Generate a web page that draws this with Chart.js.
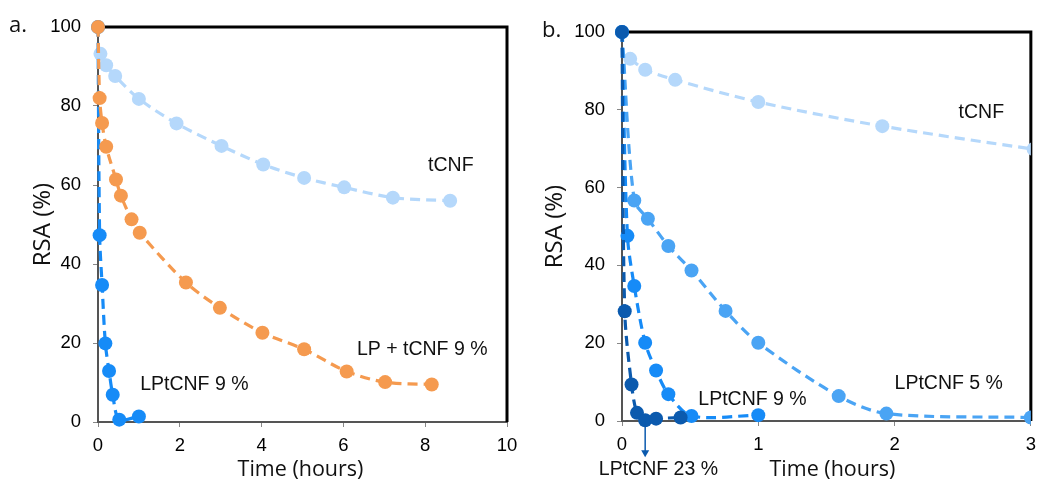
<!DOCTYPE html>
<html>
<head>
<meta charset="utf-8">
<script src="https://cdn.jsdelivr.net/npm/chart.js@4/dist/chart.umd.min.js"></script>
<style>
  html, body { margin: 0; padding: 0; background: #fff; }
  #wrap { position: relative; width: 1044px; height: 482px; }
  .panel { position: absolute; top: 0; height: 482px; }
  #panelA { left: 0; width: 530px; }
  #panelB { left: 530px; width: 514px; }
</style>
</head>
<body>
<div id="wrap">
  <div class="panel" id="panelA"><canvas id="chartA"></canvas></div>
  <div class="panel" id="panelB"><canvas id="chartB"></canvas></div>
</div>
<script>
// panel a
const timeTcnf = [0.06, 0.2, 0.42, 1.0, 1.92, 3.02, 4.04, 5.04, 6.02, 7.21, 8.61];
const rsaTcnf = [93.2, 90.3, 87.6, 81.8, 75.6, 69.9, 65.2, 61.8, 59.4, 56.8, 56.0];
const timeLpTcnf = [0, 0.04, 0.1, 0.2, 0.44, 0.56, 0.82, 1.02, 2.15, 2.98, 4.02, 5.04, 6.08, 7.02, 8.16];
const rsaLpTcnf = [100, 82.0, 75.7, 69.7, 61.4, 57.3, 51.3, 47.9, 35.3, 28.9, 22.6, 18.4, 12.8, 10.1, 9.5];
const timeLp9A = [0, 0.04, 0.1, 0.18, 0.27, 0.36, 0.52, 1.0];
const rsaLp9A = [100, 47.3, 34.7, 19.9, 12.9, 6.9, 0.6, 1.4];

// panel b
const timeTcnfB = [0.06, 0.17, 0.39, 1.0, 1.91, 3.02, 4.04];
const rsaTcnfB = [93.1, 90.3, 87.7, 82.0, 75.8, 69.9, 65.2];
const timeLp5 = [0, 0.09, 0.19, 0.34, 0.51, 0.76, 1.0, 1.59, 1.94, 3.0];
const rsaLp5 = [100, 56.7, 52.0, 45.0, 38.7, 28.3, 20.1, 6.4, 1.9, 0.9];
const timeLp9B = [0, 0.04, 0.09, 0.17, 0.25, 0.34, 0.51, 1.0];
const rsaLp9B = [100, 47.6, 34.7, 20.1, 13.0, 6.9, 1.3, 1.5];
const timeLp23 = [0, 0.02, 0.07, 0.11, 0.17, 0.25, 0.43];
const rsaLp23 = [100, 28.2, 9.4, 2.1, 0.2, 0.6, 0.9];

const ticksA = [0, 2, 4, 6, 8, 10];
const ticksB = [0, 1, 2, 3];
const ticksY = [0, 20, 40, 60, 80, 100];

const pts = (t, v) => t.map((x, i) => ({ x: x, y: v[i] }));

function series(label, t, v, color, order) {
    return {
        label: label,
        data: pts(t, v),
        showLine: true,
        borderColor: color,
        backgroundColor: color,
        pointBackgroundColor: color,
        pointBorderColor: color,
        pointRadius: 7,
        pointBorderWidth: 0,
        borderWidth: 3.2,
        borderDash: [10, 6],
        tension: 0.3,
        order: order,
        clip: { left: 12, top: 12, right: 0, bottom: 12 }
    };
}

const decor = {
    id: "decor",
    beforeDatasetsDraw(chart, args, o) {
        const { ctx, chartArea: a } = chart;
        ctx.save();
        ctx.strokeStyle = "#000";
        ctx.lineWidth = 3;
        ctx.beginPath();
        ctx.moveTo(a.left, a.top);
        ctx.lineTo(a.right, a.top);
        ctx.lineTo(a.right, a.bottom);
        ctx.stroke();
        ctx.restore();
    },
    afterDraw(chart, args, o) {
        const { ctx, chartArea: a, scales } = chart;
        const x = scales.x, y = scales.y;
        ctx.save();
        ctx.fillStyle = "#111";
        ctx.textBaseline = "middle";
        ctx.font = "22px 'Open Sans'";
        ctx.textAlign = "left";
        ctx.fillText(o.letter, o.letterX, a.top - 1);
        ctx.textAlign = "center";
        ctx.font = "21.5px 'Open Sans'";
        ctx.fillText("Time (hours)", (a.left + a.right) / 2 + o.titleShift, 470);
        ctx.save();
        ctx.translate(o.yTitleX, (a.top + a.bottom) / 2);
        ctx.rotate(-Math.PI / 2);
        ctx.font = "24px 'Open Sans'";
        ctx.fillText("RSA (%)", 0, 0);
        ctx.restore();
        ctx.font = "19.5px 'Liberation Sans'";
        ctx.textAlign = "left";
        o.labels.forEach(l => {
            ctx.fillText(l.text, x.getPixelForValue(l.x), y.getPixelForValue(l.y));
        });
        if (o.arrow) {
            const ax = x.getPixelForValue(o.arrow.x);
            const y0 = y.getPixelForValue(0);
            const y1 = y.getPixelForValue(o.arrow.to);
            ctx.strokeStyle = o.arrow.color;
            ctx.fillStyle = o.arrow.color;
            ctx.lineWidth = 1.5;
            ctx.beginPath();
            ctx.moveTo(ax, y0);
            ctx.lineTo(ax, y1 - 6);
            ctx.stroke();
            ctx.beginPath();
            ctx.moveTo(ax - 4, y1 - 7);
            ctx.lineTo(ax + 4, y1 - 7);
            ctx.lineTo(ax, y1);
            ctx.closePath();
            ctx.fill();
        }
        ctx.restore();
    }
};

function makeChart(id, datasets, xMax, xTicks, layout, deco) {
    return new Chart(document.getElementById(id), {
        type: "scatter",
        data: { datasets: datasets },
        plugins: [decor],
        options: {
            responsive: true,
            maintainAspectRatio: false,
            animation: false,
            layout: { padding: { left: 0, top: layout.top, right: layout.right, bottom: 0 } },
            plugins: { legend: { display: false }, tooltip: { enabled: false }, decor: deco },
            scales: {
                x: {
                    type: "linear",
                    min: 0,
                    max: xMax,
                    afterBuildTicks: s => { s.ticks = xTicks.map(v => ({ value: v })); },
                    afterFit: s => { s.height = layout.xh; },
                    grid: { drawOnChartArea: false, tickLength: 5, color: "#888" },
                    border: { color: "#555", width: 2 },
                    ticks: { padding: 8, color: "#000", font: { family: "Liberation Sans", size: 18.5 } }
                },
                y: {
                    type: "linear",
                    min: 0,
                    max: 100,
                    afterBuildTicks: s => { s.ticks = ticksY.map(v => ({ value: v })); },
                    afterFit: s => { s.width = layout.yw; },
                    grid: { drawOnChartArea: false, tickLength: 5, color: "#888" },
                    border: { color: "#555", width: 2 },
                    ticks: { padding: 12, color: "#000", font: { family: "Liberation Sans", size: 18.5 } }
                }
            }
        }
    });
}

makeChart("chartA", [
    series("tCNF", timeTcnf, rsaTcnf, "#b5d8fb", 3),
    series("LPtCNF 9 %", timeLp9A, rsaLp9A, "#168bf7", 2),
    series("LP + tCNF 9 %", timeLpTcnf, rsaLpTcnf, "#f59a4f", 1)
], 10, ticksA, { top: 27, right: 23, yw: 98, xh: 60 }, {
    letter: "a.", letterX: 9, yTitleX: 43, titleShift: -2,
    labels: [
        { text: "tCNF", x: 8.07, y: 64.8 },
        { text: "LP + tCNF 9 %", x: 6.33, y: 18.2 },
        { text: "LPtCNF 9 %", x: 1.03, y: 9.4 }
    ]
});

makeChart("chartB", [
    series("tCNF", timeTcnfB, rsaTcnfB, "#b5d8fb", 4),
    series("LPtCNF 5 %", timeLp5, rsaLp5, "#4aa4f4", 3),
    series("LPtCNF 9 %", timeLp9B, rsaLp9B, "#168bf7", 2),
    series("LPtCNF 23 %", timeLp23, rsaLp23, "#0b5aae", 1)
], 3, ticksB, { top: 32, right: 7, yw: 92, xh: 61 }, {
    letter: "b.", letterX: 12, yTitleX: 25, titleShift: 6,
    labels: [
        { text: "tCNF", x: 2.47, y: 79.2 },
        { text: "LPtCNF 5 %", x: 2.0, y: 9.5 },
        { text: "LPtCNF 9 %", x: 0.56, y: 5.4 },
        { text: "LPtCNF 23 %", x: -0.17, y: -12.6 }
    ],
    arrow: { x: 0.17, to: -9.3, color: "#0b5aae" }
});
</script>
</body>
</html>
